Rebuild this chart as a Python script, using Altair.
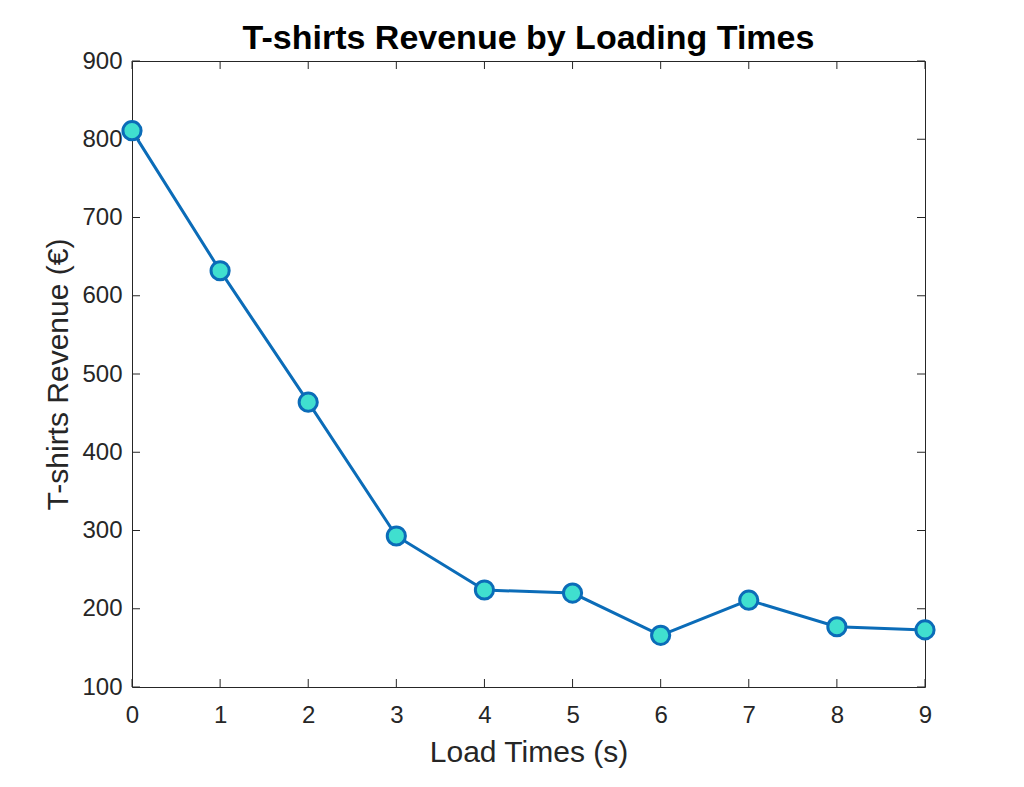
import altair as alt
import pandas as pd

load_times = [0, 1, 2, 3, 4, 5, 6, 7, 8, 9]
revenue = [811, 632, 464, 293, 224, 220, 166, 211, 177, 173]
x_ticks = [0, 1, 2, 3, 4, 5, 6, 7, 8, 9]
y_ticks = [100, 200, 300, 400, 500, 600, 700, 800, 900]

FONT = "Liberation Sans"
AX = "#262626"
LINE = "#0b6cb8"
FILL = "#40dfcf"

df = pd.DataFrame({"t": load_times, "rev": revenue})
xt = pd.DataFrame({"v": x_ticks})
yt = pd.DataFrame({"v": y_ticks})

xscale = alt.Scale(domain=[0, 9], nice=False, zero=False)
yscale = alt.Scale(domain=[100, 900], nice=False, zero=False)

x_axis = alt.Axis(values=x_ticks, format="d", grid=False, ticks=False, domain=False,
                  labelFlush=False,
                  labelFont=FONT, labelFontSize=24, labelColor=AX, labelPadding=16,
                  title="Load Times (s)", titleFont=FONT, titleFontSize=30,
                  titleFontWeight="normal", titleColor=AX, titlePadding=10)
y_axis = alt.Axis(values=y_ticks, format="d", grid=False, ticks=False, domain=False,
                  labelFlush=False,
                  labelFont=FONT, labelFontSize=24, labelColor=AX, labelPadding=10,
                  title="T-shirts Revenue (€)", titleFont=FONT, titleFontSize=30,
                  titleFontWeight="normal", titleColor=AX, titlePadding=8)

base = alt.Chart(df)
line = base.mark_line(color=LINE, strokeWidth=3).encode(
    x=alt.X("t:Q", scale=xscale, axis=x_axis),
    y=alt.Y("rev:Q", scale=yscale, axis=y_axis),
)
points = base.mark_point(filled=True, fill=FILL, stroke=LINE, strokeWidth=3,
                         size=330, opacity=1, shape="circle").encode(
    x=alt.X("t:Q", scale=xscale),
    y=alt.Y("rev:Q", scale=yscale),
)

tick_style = dict(filled=False, stroke=AX, strokeWidth=1, size=256, opacity=1)
bottom_ticks = alt.Chart(xt).mark_point(shape="M0,0V-1", **tick_style).encode(
    x=alt.X("v:Q", scale=xscale), y=alt.datum(100))
top_ticks = alt.Chart(xt).mark_point(shape="M0,0V1", **tick_style).encode(
    x=alt.X("v:Q", scale=xscale), y=alt.datum(900))
left_ticks = alt.Chart(yt).mark_point(shape="M0,0H1", **tick_style).encode(
    y=alt.Y("v:Q", scale=yscale), x=alt.datum(0))
right_ticks = alt.Chart(yt).mark_point(shape="M0,0H-1", **tick_style).encode(
    y=alt.Y("v:Q", scale=yscale), x=alt.datum(9))

chart = alt.layer(bottom_ticks, top_ticks, left_ticks, right_ticks, line, points).properties(
    width=793, height=626,
    background="white",
    title=alt.TitleParams("T-shirts Revenue by Loading Times", font=FONT, fontSize=34,
                          fontWeight="bold", color="black", anchor="middle",
                          offset=-7),
    autosize="none",
    padding={"left": 124, "top": 53, "right": 80, "bottom": 90},
).configure_view(stroke=AX, strokeWidth=1)

chart.save("out.html", embed_options={"renderer": "svg", "actions": False})
